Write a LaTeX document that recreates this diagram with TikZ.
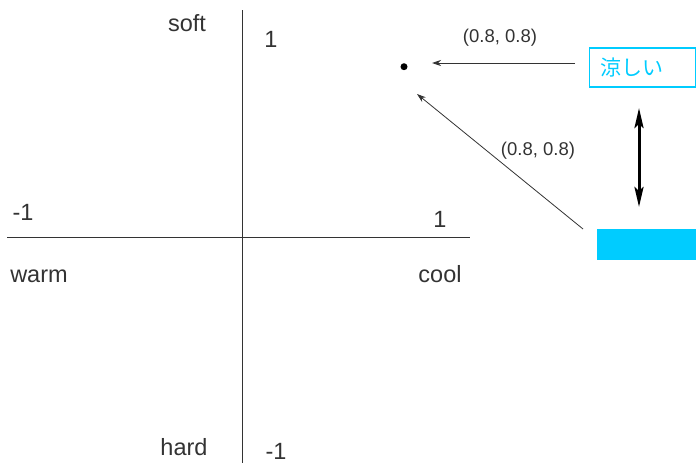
\documentclass[tikz,border=0pt]{standalone}
\usepackage{fontspec}
\setmainfont{Liberation Sans}
\newfontfamily\cjk{Noto Sans CJK JP}
\usetikzlibrary{arrows.meta}
\definecolor{ink}{HTML}{333333}
\definecolor{sky}{HTML}{00CCFF}
\begin{document}
\begin{tikzpicture}[x=1pt,y=-1pt,
  axis/.style={draw=ink,line width=1pt},
  biglbl/.style={anchor=base,inner sep=0pt,text=ink,font=\fontsize{23.5}{28}\selectfont},
  smalllbl/.style={anchor=base,inner sep=0pt,text=ink,font=\fontsize{18.5}{22}\selectfont},
  thinarrow/.style={draw=ink,line width=0.8pt,-{Stealth[length=9pt,width=6pt]}},
  thickarrow/.style={draw=black,line width=3pt,{Stealth[length=20pt,width=9pt,inset=4pt]}-{Stealth[length=20pt,width=9pt,inset=4pt]}}
]
\useasboundingbox (0,0) rectangle (696,463);
% axes
\coordinate (xl) at (7,237.3);
\coordinate (xr) at (470,237.3);
\coordinate (yt) at (242,10);
\coordinate (yb) at (242,463);
\draw[axis] (xl) -- (xr);
\draw[axis] (yt) -- (yb);
% axis labels
\node[biglbl] (soft) at (187,31) {soft};
\node[biglbl] (ytop) at (271,47) {1};
\node[biglbl] (xneg) at (23,220) {-1};
\node[biglbl] (xpos) at (440,227) {1};
\node[biglbl] (warm) at (39,282) {warm};
\node[biglbl] (cool) at (440,282) {cool};
\node[biglbl] (hard) at (184,455) {hard};
\node[biglbl] (ybot) at (276,459) {-1};
% point
\node[circle,fill=black,inner sep=0pt,minimum size=7pt] (dot) at (404,66.7) {};
% word box
\node[draw=sky,line width=1.2pt,anchor=west,minimum height=39pt,text width=84pt,inner xsep=11pt,align=left,text=sky,font=\cjk\fontsize{21}{25}\selectfont] (word) at (589,67.5) {涼しい};
% colour swatch
\node[fill=sky,anchor=north west,minimum width=99pt,minimum height=31pt,inner sep=0pt] (swatch) at (597,229) {};
% arrows
\coordinate (a1s) at (575,63);
\coordinate (a1e) at (432,63);
\draw[thinarrow] (a1s) -- (a1e);
\node[smalllbl] (lbl1) at (500,42) {(0.8, 0.8)};
\coordinate (a2s) at (583,229);
\coordinate (a2e) at (417,94);
\draw[thinarrow] (a2s) -- (a2e);
\node[smalllbl] (lbl2) at (538,155) {(0.8, 0.8)};
\coordinate (d1) at (639,108);
\coordinate (d2) at (639,207);
\draw[thickarrow] (d1) -- (d2);
\end{tikzpicture}
\end{document}
